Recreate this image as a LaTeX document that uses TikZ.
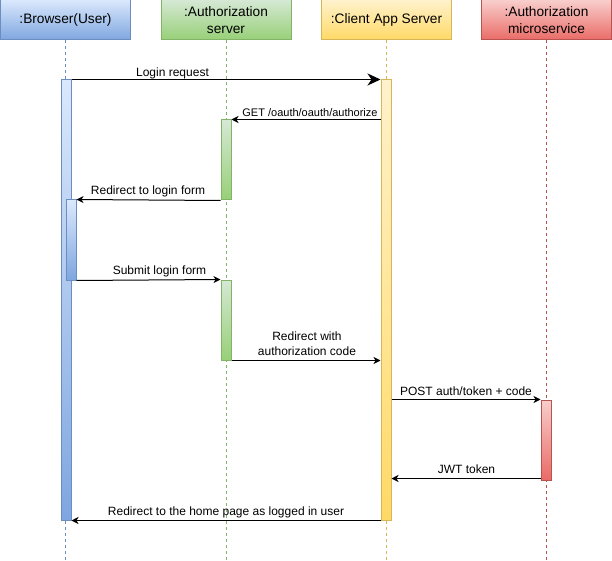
\documentclass[tikz,border=0pt]{standalone}
\usepackage{fontspec}
\setmainfont{Liberation Sans}
\usetikzlibrary{arrows.meta}
\definecolor{blueL}{HTML}{DAE8FC}
\definecolor{blueD}{HTML}{7EA6E0}
\definecolor{blueS}{HTML}{6C8EBF}
\definecolor{greenL}{HTML}{D5E8D4}
\definecolor{greenD}{HTML}{97D077}
\definecolor{greenS}{HTML}{82B366}
\definecolor{yellowL}{HTML}{FFF2CC}
\definecolor{yellowD}{HTML}{FFD966}
\definecolor{yellowS}{HTML}{D6B656}
\definecolor{redL}{HTML}{F8CECC}
\definecolor{redD}{HTML}{EA6B66}
\definecolor{redS}{HTML}{B85450}
\tikzset{
  hdr/.style={rectangle, minimum width=130pt, minimum height=40pt, inner sep=0pt,
    line width=1pt, align=center, font=\fontsize{13.7}{17}\selectfont},
  bar/.style={rectangle, minimum width=10pt, inner sep=0pt, line width=1pt},
  bluecol/.style={draw=blueS, top color=blueL, bottom color=blueD},
  greencol/.style={draw=greenS, top color=greenL, bottom color=greenD},
  yellowcol/.style={draw=yellowS, top color=yellowL, bottom color=yellowD},
  redcol/.style={draw=redS, top color=redL, bottom color=redD},
  lifeline/.style={line width=0.8pt, dash pattern=on 3pt off 3pt},
  msg/.style={line width=1pt, -{Stealth[length=7pt,width=7pt,inset=2pt]}},
  bigmsg/.style={line width=1pt, -{Stealth[length=13pt,width=12pt,inset=4pt]}},
  lbl/.style={inner sep=0pt, font=\fontsize{12}{15}\selectfont, align=center},
  smalllbl/.style={inner sep=0pt, font=\fontsize{11}{14}\selectfont}
}
\begin{document}
\begin{tikzpicture}[x=1pt,y=-1pt]
\useasboundingbox (0,0) rectangle (612,561);
% headers
\node[hdr, bluecol]   (h1) at (65.5,20) {:Browser(User)};
\node[hdr, greencol]  (h2) at (226,20) {:Authorization\\server};
\node[hdr, yellowcol] (h3) at (386.5,20) {:Client App Server};
\node[hdr, redcol]    (h4) at (546.5,20) {:Authorization\\microservice};
% lifelines
\coordinate (bot) at (0,561);
\draw[lifeline, blueS]   (h1.south) -- (h1.south |- bot);
\draw[lifeline, greenS]  (h2.south) -- (h2.south |- bot);
\draw[lifeline, yellowS] (h3.south) -- (h3.south |- bot);
\draw[lifeline, redS]    (h4.south) -- (h4.south |- bot);
% activation bars
\node[bar, bluecol, minimum height=440pt] (b1) at (66,300) {};
\node[bar, bluecol, minimum height=80pt] (b2) at (71,240) {};
\node[bar, greencol, minimum height=80pt] (g1) at (226,160) {};
\node[bar, greencol, minimum height=80pt] (g2) at (226,320) {};
\node[bar, yellowcol, minimum height=440pt] (y1) at (386,300) {};
\node[bar, redcol, minimum height=80pt] (r1) at (546,440) {};
% messages
\draw[bigmsg] (b1.north east) -- (y1.north west);
\draw[msg] (y1.west |- g1.north) -- (g1.north east);
\draw[msg] (g1.south west) -- (b2.north east);
\draw[msg] (b2.south east) -- (g2.north west);
\draw[msg] (g2.south east) -- (g2.south east -| y1.west);
\draw[msg] (y1.east |- r1.north) -- (r1.north west);
\coordinate (jw) at ([yshift=2pt]r1.south west);
\draw[msg] (jw) -- (y1.east |- jw);
\draw[msg] (y1.south west) -- (b1.south east);
% labels
\node[lbl] (l1) at (172.5,73) {Login request};
\node[smalllbl] (l2) at (310,113) {GET /oauth/oauth/authorize};
\node[lbl] (l3) at (148,191.5) {Redirect to login form};
\node[lbl] (l4) at (159.5,271.5) {Submit login form};
\node[lbl] (l5) at (307,344) {Redirect with\\authorization code};
\node[lbl] (l6) at (466,391.5) {POST auth/token + code};
\node[lbl] (l7) at (466.5,469.5) {JWT token};
\node[lbl] (l8) at (226,512) {Redirect to the home page as logged in user};
\end{tikzpicture}
\end{document}
